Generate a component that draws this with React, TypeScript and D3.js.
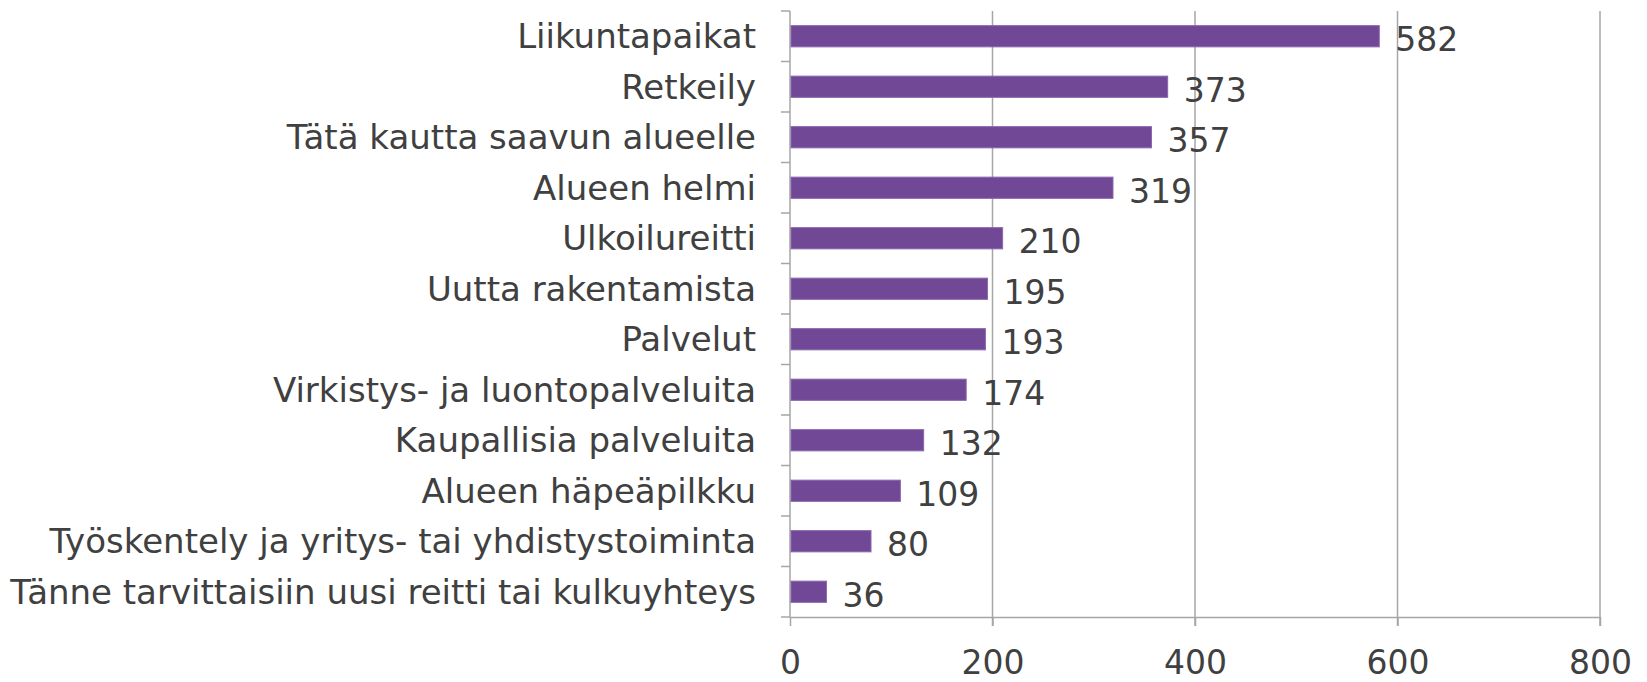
import React, { useRef, useEffect } from "react";
import * as d3 from "d3";

const categories = [
  "Liikuntapaikat",
  "Retkeily",
  "Tätä kautta saavun alueelle",
  "Alueen helmi",
  "Ulkoilureitti",
  "Uutta rakentamista",
  "Palvelut",
  "Virkistys- ja luontopalveluita",
  "Kaupallisia palveluita",
  "Alueen häpeäpilkku",
  "Työskentely ja yritys- tai yhdistystoiminta",
  "Tänne tarvittaisiin uusi reitti tai kulkuyhteys",
];
const counts = [582, 373, 357, 319, 210, 195, 193, 174, 132, 109, 80, 36];
const xTicks = [0, 200, 400, 600, 800];

const App = () => {
  const svgRef = useRef<SVGSVGElement>(null);

  useEffect(() => {
    const svg = d3.select(svgRef.current);
    svg.selectAll("*").remove();

    const left = 790;
    const right = 1600;
    const top = 11;
    const bottom = 617;
    const font = "'DejaVu Sans', sans-serif";
    const textColor = "#404040";
    const gridColor = "#a6a6a6";

    const x = d3.scaleLinear().domain([0, 800]).range([left, right]);
    const y = d3
      .scaleBand()
      .domain(categories)
      .range([top, bottom])
      .paddingInner(0.58)
      .paddingOuter(0.29);

    // gridlines
    svg
      .append("g")
      .selectAll("line")
      .data(xTicks.slice(1))
      .enter()
      .append("line")
      .attr("x1", (d) => x(d))
      .attr("x2", (d) => x(d))
      .attr("y1", top)
      .attr("y2", bottom + 9)
      .attr("stroke", gridColor)
      .attr("stroke-width", 1.5);

    // bottom axis
    const xAxis = d3
      .axisBottom(x)
      .tickValues(xTicks)
      .tickSize(9)
      .tickPadding(25)
      .tickSizeOuter(0);
    const gx = svg
      .append("g")
      .attr("transform", `translate(0,${bottom})`)
      .call(xAxis);
    gx.select(".domain").attr("stroke", gridColor).attr("stroke-width", 1.5);
    gx.selectAll(".tick line").attr("stroke", gridColor).attr("stroke-width", 1.5);
    gx.selectAll(".tick text")
      .attr("font-family", font)
      .attr("font-size", 33)
      .attr("fill", textColor);

    // left axis line with ticks at band boundaries
    const step = y.step();
    const boundaries = d3.range(categories.length + 1).map((i) => top + i * step);
    svg
      .append("line")
      .attr("x1", left)
      .attr("x2", left)
      .attr("y1", top)
      .attr("y2", bottom)
      .attr("stroke", gridColor)
      .attr("stroke-width", 1.5);
    svg
      .append("g")
      .selectAll("line")
      .data(boundaries)
      .enter()
      .append("line")
      .attr("x1", left - 9)
      .attr("x2", left)
      .attr("y1", (d) => d)
      .attr("y2", (d) => d)
      .attr("stroke", gridColor)
      .attr("stroke-width", 1.5);

    // category labels
    svg
      .append("g")
      .selectAll("text")
      .data(categories)
      .enter()
      .append("text")
      .attr("x", left - 34)
      .attr("y", (d) => (y(d) as number) + y.bandwidth() / 2)
      .attr("dy", "0.36em")
      .attr("text-anchor", "end")
      .attr("font-family", font)
      .attr("font-size", 34)
      .attr("fill", textColor)
      .text((d) => d);

    // bars
    svg
      .append("g")
      .selectAll("rect")
      .data(counts)
      .enter()
      .append("rect")
      .attr("x", x(0) + 1)
      .attr("y", (d, i) => y(categories[i]) as number)
      .attr("width", (d) => x(d) - x(0) - 1)
      .attr("height", y.bandwidth())
      .attr("fill", "#714896")
      .attr("stroke", "#8a66ad")
      .attr("stroke-width", 1);

    // value labels
    svg
      .append("g")
      .selectAll("text")
      .data(counts)
      .enter()
      .append("text")
      .attr("x", (d) => x(d) + 16)
      .attr("y", (d, i) => (y(categories[i]) as number) + y.bandwidth() / 2 + 3)
      .attr("dy", "0.36em")
      .attr("font-family", font)
      .attr("font-size", 33)
      .attr("fill", textColor)
      .text((d) => d);
  }, []);

  return (
    <svg
      ref={svgRef}
      width="1647"
      height="682"
      style={{ position: "absolute", left: 0, top: 0, background: "#fff" }}
    />
  );
};

export default App;
